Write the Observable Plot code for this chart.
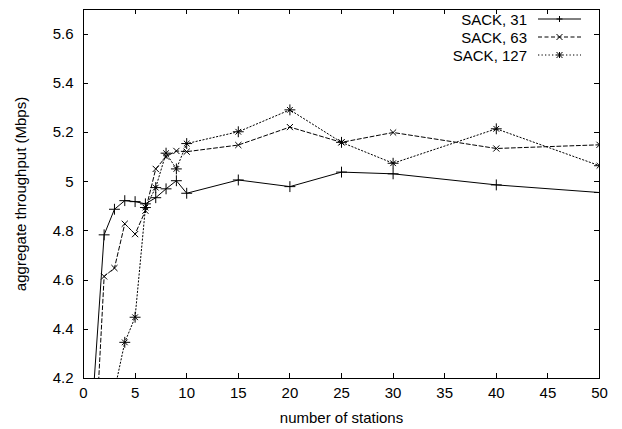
<!DOCTYPE html>
<html><head><meta charset="utf-8">
<script src="https://cdn.jsdelivr.net/npm/d3@7"></script>
<script src="https://cdn.jsdelivr.net/npm/@observablehq/plot@0.6"></script>
<style>
body{margin:0;background:#fff;font-family:"Liberation Sans",Arial,sans-serif;}
#wrap{position:relative;width:622px;height:429px;}
</style></head><body><div id="wrap"></div>
<script>
// ---- data ----
const seriesNames = ["SACK, 31", "SACK, 63", "SACK, 127"];
const stations31 = [1, 2, 3, 4, 5, 6, 7, 8, 9, 10, 15, 20, 25, 30, 40, 50];
const sack31 = [4.17, 4.784, 4.888, 4.923, 4.919, 4.910, 4.935, 4.971, 5.004, 4.953, 5.007, 4.980, 5.039, 5.032, 4.987, 4.956];
const stations63 = [1, 2, 3, 4, 5, 6, 7, 8, 9, 10, 15, 20, 25, 30, 40, 50];
const sack63 = [3.82, 4.615, 4.649, 4.829, 4.787, 4.882, 5.052, 5.102, 5.125, 5.122, 5.149, 5.222, 5.160, 5.200, 5.135, 5.150];
const stations127 = [3, 4, 5, 6, 7, 8, 9, 10, 15, 20, 25, 30, 40, 50];
const sack127 = [4.15, 4.347, 4.449, 4.895, 4.976, 5.116, 5.052, 5.155, 5.203, 5.292, 5.160, 5.075, 5.215, 5.065];
const xTicks = [0, 5, 10, 15, 20, 25, 30, 35, 40, 45, 50];
const yTicks = [4.2, 4.4, 4.6, 4.8, 5.0, 5.2, 5.4, 5.6];
const xLabel = "number of stations";
const yLabel = "aggregate throughput (Mbps)";

const toRows = (name, xs, ys) => xs.map((x, i) => ({series: name, x, y: ys[i]}));
const d31 = toRows(seriesNames[0], stations31, sack31);
const d63 = toRows(seriesNames[1], stations63, sack63);
const d127 = toRows(seriesNames[2], stations127, sack127);

const dash63 = "4,2.5";
const dash127 = "1.3,2.2";
const fmt = d => d3.format("")(+d.toFixed(1));

const W = 622, H = 429, mL = 83, mR = 23, mT = 9, mB = 51, tickPx = 5;
const xDomain = [0, 50], yDomain = [4.2, 5.7];

const chart = Plot.plot({
  width: W, height: H,
  marginLeft: mL, marginRight: mR, marginTop: mT, marginBottom: mB,
  style: {fontFamily: "'Liberation Sans', Arial, sans-serif", fontSize: "15px", color: "#000", background: "#fff"},
  x: {domain: xDomain},
  y: {domain: yDomain},
  marks: [
    Plot.line(d31, {x: "x", y: "y", stroke: "#000", strokeWidth: 1, clip: true}),
    Plot.dot(d31, {x: "x", y: "y", symbol: "plus", r: 3.6, stroke: "#000", strokeWidth: 1, clip: true}),
    Plot.line(d63, {x: "x", y: "y", stroke: "#000", strokeWidth: 1, strokeDasharray: dash63, clip: true}),
    Plot.dot(d63, {x: "x", y: "y", symbol: "times", r: 2.9, stroke: "#000", strokeWidth: 1, clip: true}),
    Plot.line(d127, {x: "x", y: "y", stroke: "#000", strokeWidth: 1, strokeDasharray: dash127, clip: true}),
    Plot.dot(d127, {x: "x", y: "y", symbol: "plus", r: 3.6, stroke: "#000", strokeWidth: 1, clip: true}),
    Plot.dot(d127, {x: "x", y: "y", symbol: "times", r: 2.7, stroke: "#000", strokeWidth: 1, clip: true}),
    // tick labels + axis titles
    Plot.axisX(xTicks, {anchor: "bottom", tickSize: 0, tickPadding: 9, fontSize: 15, label: xLabel, labelAnchor: "center", labelArrow: "none", labelOffset: 44}),
    Plot.axisY(yTicks, {anchor: "left", tickSize: 0, tickPadding: 10, fontSize: 15, tickFormat: fmt, label: yLabel, labelAnchor: "center", labelArrow: "none", labelOffset: 68}),
    Plot.frame({stroke: "#000", strokeWidth: 1})
  ]
});
document.getElementById("wrap").appendChild(chart);

// ---- overlay: inward mirror ticks (placed by the chart's own scales) and the key ----
const sx = chart.scale("x"), sy = chart.scale("y");
const ov = d3.select("#wrap").append("svg")
  .style("position", "absolute").style("left", "0px").style("top", "0px")
  .attr("width", W).attr("height", H)
  .style("pointer-events", "none")
  .style("font-family", "'Liberation Sans', Arial, sans-serif")
  .style("font-size", "15px");
const x0 = sx.apply(xDomain[0]), x1 = sx.apply(xDomain[1]);
const yb = sy.apply(yDomain[0]), yt = sy.apply(yDomain[1]);
const tg = ov.append("g").attr("stroke", "#000").attr("stroke-width", 1).attr("shape-rendering", "crispEdges");
xTicks.forEach(v => {
  const px = Math.round(sx.apply(v)) + 0.5;
  tg.append("line").attr("x1", px).attr("x2", px).attr("y1", yb).attr("y2", yb - tickPx);
  tg.append("line").attr("x1", px).attr("x2", px).attr("y1", yt).attr("y2", yt + tickPx);
});
yTicks.forEach(v => {
  const py = Math.round(sy.apply(v)) + 0.5;
  tg.append("line").attr("x1", x0).attr("x2", x0 + tickPx).attr("y1", py).attr("y2", py);
  tg.append("line").attr("x1", x1).attr("x2", x1 - tickPx).attr("y1", py).attr("y2", py);
});

const dashes = [null, dash63, dash127];
const plusPath = "M-3,0H3M0,-3V3";
const timesPath = "M-3,-3L3,3M-3,3L3,-3";
const keyMarks = [[plusPath], [timesPath], [plusPath, timesPath]];
seriesNames.forEach((name, i) => {
  const y = 19 + 18 * i;
  ov.append("text").attr("x", 527).attr("y", y).attr("text-anchor", "end")
    .attr("dominant-baseline", "central").attr("fill", "#000").text(name);
  const ln = ov.append("line").attr("x1", 538).attr("x2", 581).attr("y1", y).attr("y2", y)
    .attr("stroke", "#000").attr("stroke-width", 1);
  if (dashes[i]) ln.attr("stroke-dasharray", dashes[i]);
  keyMarks[i].forEach(p => ov.append("path").attr("d", p)
    .attr("transform", `translate(559.5,${y})`).attr("stroke", "#000").attr("fill", "none"));
});
</script></body></html>
